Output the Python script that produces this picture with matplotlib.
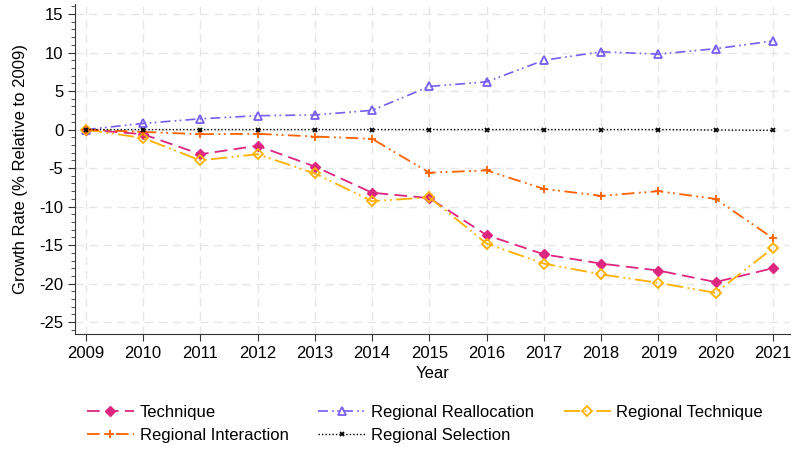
import matplotlib

matplotlib.use("Agg")
import matplotlib.pyplot as plt
import numpy as np

plt.rcParams["font.family"] = ["Liberation Sans", "DejaVu Sans"]
plt.rcParams["axes.unicode_minus"] = False

# * данные
years = list(range(2009, 2022))
technique = [0, -0.6, -3.2, -2.1, -4.8, -8.2, -8.9, -13.7, -16.2, -17.4, -18.3, -19.8, -18.0]
regional_reallocation = [0, 0.8, 1.4, 1.8, 1.9, 2.5, 5.6, 6.2, 9.0, 10.1, 9.8, 10.5, 11.5]
regional_technique = [0, -1.1, -4.0, -3.2, -5.7, -9.3, -8.8, -14.8, -17.4, -18.8, -19.9, -21.2, -15.4]
regional_interaction = [0, -0.3, -0.6, -0.55, -0.9, -1.2, -5.6, -5.3, -7.7, -8.6, -8.0, -9.0, -14.1]
regional_selection = [0, 0, 0, 0, 0, 0, 0, 0, 0, 0, 0, -0.05, -0.1]

fig = plt.figure(figsize=(7.92, 4.49), dpi=100)
ax = fig.add_axes([0.0947, 0.256, 0.9028, 0.735])

h_tech, = ax.plot(years, technique, color="#DC267F", marker="D", markersize=5.5,
                  linewidth=1.3, linestyle=(0, (7, 3.5)), label="Technique")
h_real, = ax.plot(years, regional_reallocation, color="#785EF0", marker="^", markersize=6,
                  markerfacecolor="none", markeredgewidth=1.3, linewidth=1.2,
                  linestyle=(0, (6, 2.5, 1, 2, 1, 2.5)), label="Regional Reallocation")
h_rtech, = ax.plot(years, regional_technique, color="#FFB000", marker="D", markersize=5.5,
                   markerfacecolor="none", markeredgewidth=1.3, linewidth=1.3,
                   linestyle=(0, (9, 2.5, 1, 2, 1, 2.5)), label="Regional Technique")
h_int, = ax.plot(years, regional_interaction, color="#FE6100", marker="+", markersize=6,
                 markeredgewidth=1.3, linewidth=1.3,
                 linestyle=(0, (7, 2.5, 1, 2, 1, 2.5)), label="Regional Interaction")
h_sel, = ax.plot(years, regional_selection, color="black", marker="x", markersize=3.5,
                 markeredgewidth=1.3, linewidth=1.0, linestyle=(0, (1, 1.5)),
                 label="Regional Selection")

ax.set_xlim(2008.81, 2021.3)
ax.set_ylim(-26.55, 16.3)
ax.set_xticks(years)
ax.set_yticks(np.arange(-25, 16, 5))
ax.set_yticks(np.arange(-26, 17, 1), minor=True)
ax.tick_params(axis="both", labelsize=12, direction="out", length=5, color="#333333")
ax.tick_params(axis="y", which="minor", length=3, color="#333333")
ax.grid(True, which="major", linestyle=(0, (6, 4)), color="#e6e6e6", linewidth=1)
ax.set_axisbelow(True)

for side in ["top", "right"]:
    ax.spines[side].set_visible(False)
for side in ["left", "bottom"]:
    ax.spines[side].set_color("#333333")

ax.set_xlabel("Year", fontsize=12)
ax.set_ylabel("Growth Rate (% Relative to 2009)", fontsize=12, labelpad=8)

fig.legend(
    handles=[h_tech, h_int, h_real, h_sel, h_rtech],
    loc="lower left",
    bbox_to_anchor=(0.091, -0.02),
    ncol=3,
    frameon=False,
    fontsize=12,
    handlelength=2.8,
    handletextpad=0.35,
    columnspacing=1.8,
    labelspacing=0.5,
)

plt.savefig("out.png", dpi=100)
plt.close()
